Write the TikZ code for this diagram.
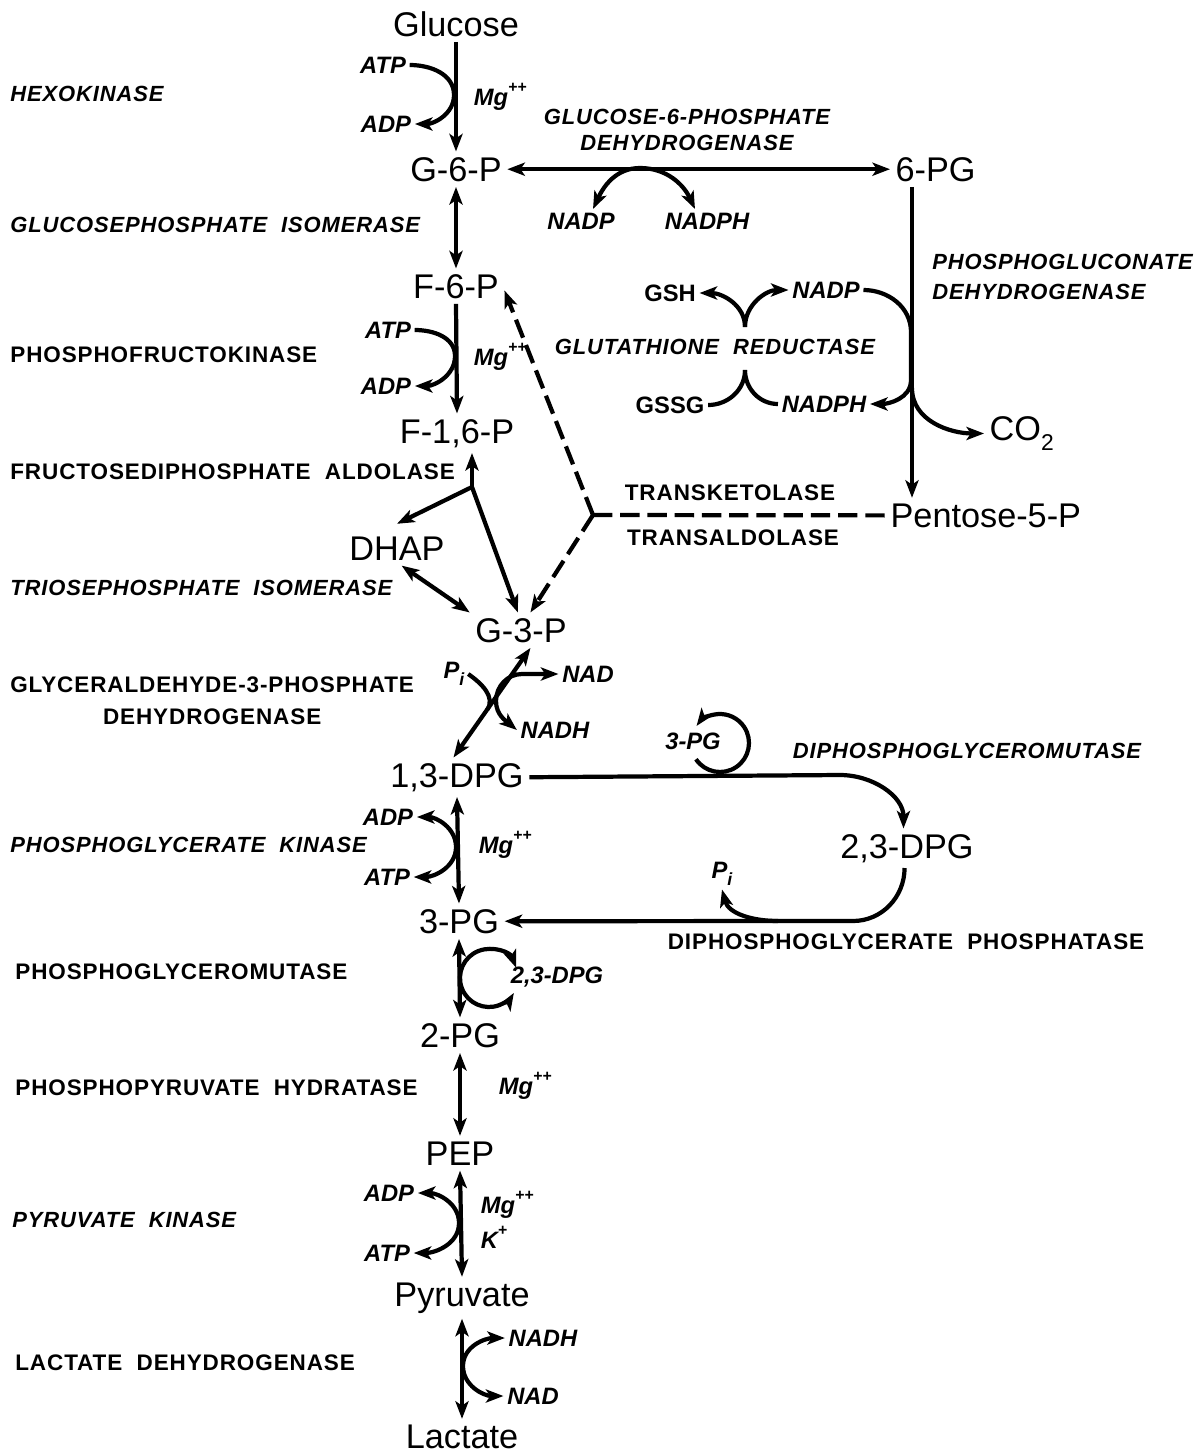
\documentclass[tikz,border=0pt]{standalone}
\usepackage{fontspec}
\setmainfont{Liberation Sans}
\newfontfamily\enzfont[LetterSpace=4]{Liberation Sans}
\usepackage{tikz}
\usetikzlibrary{arrows.meta, positioning}
\newcommand\chg[1]{\raisebox{1.0ex}{\fontsize{9}{9}\selectfont #1}}
\newcommand\lowi{\raisebox{-0.55ex}{\fontsize{10}{10}\selectfont i}}

\begin{document}
\begin{tikzpicture}[
    x=0.02cm, y=0.02cm,
    >={Stealth[length=10pt,width=7.5pt,inset=2.5pt]},
    met/.style={font=\fontsize{19.5}{22}\selectfont, anchor=base, inner sep=3pt},
    enz/.style={font=\enzfont\fontsize{12.8}{15}\selectfont\bfseries, anchor=west, inner sep=0pt},
    enzit/.style={enz, font=\enzfont\fontsize{12.5}{15}\selectfont\bfseries\itshape},
    cof/.style={font=\fontsize{13.5}{15}\selectfont\bfseries\itshape, inner sep=2pt},
    cofup/.style={cof, font=\fontsize{13.5}{15}\selectfont\bfseries},
    rx/.style={line width=2.4pt},
    fwd/.style={rx, ->},
    dbl/.style={rx, <->},
    tkdash/.style={rx, dash pattern=on 11pt off 4.5pt},
]
\useasboundingbox (0,0) rectangle (1196,-1455);

% Metabolites
\node[met] (glc) at (456,-36) {Glucose};
\node[met] (g6p) at (456,-181) {G-6-P};
\node[met, anchor=base west] (pg6) at (890,-181) {6-PG};
\node[met] (f6p) at (456,-298) {F-6-P};
\node[met] (f16p) at (457,-443) {F-1,6-P};
\node[met] (dhap) at (397,-560) {DHAP};
\node[met] (g3p) at (521,-642) {G-3-P};
\node[met] (dpg13) at (457,-787) {1,3-DPG};
\node[met] (dpg23) at (907,-858) {2,3-DPG};
\node[met] (pg3) at (459,-933) {3-PG};
\node[met] (pg2) at (460,-1047) {2-PG};
\node[met] (pep) at (460,-1165) {PEP};
\node[met] (pyr) at (462,-1306) {Pyruvate};
\node[met] (lac) at (462,-1448) {Lactate};
\node[met, anchor=base west] (pent) at (885,-527) {Pentose-5-P};
\node[met, anchor=base west] (co2) at (984,-440) {CO\raisebox{-0.6ex}{\fontsize{13}{13}\selectfont 2}};

% Left column: enzymes of glycolysis
\node[enzit] (hk) at (10,-94) {HEXOKINASE};
\node[enzit] (gpi) at (10,-225) {GLUCOSEPHOSPHATE\ \ ISOMERASE};
\node[enz] (pfk) at (10,-355) {PHOSPHOFRUCTOKINASE};
\node[enz] (fba) at (10,-472) {FRUCTOSEDIPHOSPHATE\ \ ALDOLASE};
\node[enzit] (tpi) at (10,-588) {TRIOSEPHOSPHATE\ \ ISOMERASE};
\node[enz] (gapdA) at (10,-685) {GLYCERALDEHYDE-3-PHOSPHATE};
\node[enz, below=8.5pt of gapdA] (gapdB) {DEHYDROGENASE};
\node[enzit] (pgk) at (10,-845) {PHOSPHOGLYCERATE\ \ KINASE};
\node[enz] (pgm) at (15,-972) {PHOSPHOGLYCEROMUTASE};
\node[enz] (eno) at (15,-1088) {PHOSPHOPYRUVATE\ \ HYDRATASE};
\node[enzit] (pk) at (12,-1220) {PYRUVATE\ \ KINASE};
\node[enz] (ldh) at (15,-1363) {LACTATE\ \ DEHYDROGENASE};

% Right side: shunt enzymes
\node[enzit, anchor=center] (g6pdA) at (687,-117) {GLUCOSE-6-PHOSPHATE};
\node[enzit, below=5.5pt of g6pdA] (g6pdB) {DEHYDROGENASE};
\node[enzit] (pgdA) at (932,-262) {PHOSPHOGLUCONATE};
\node[enzit] (pgdB) at (932,-292) {DEHYDROGENASE};
\node[enzit, anchor=center] (grd) at (715,-347) {GLUTATHIONE\ \ REDUCTASE};
\node[enz, anchor=center] (tkt) at (730,-493) {TRANSKETOLASE};
\node[enz, anchor=center] (tal) at (733,-538) {TRANSALDOLASE};
\node[enzit, anchor=center] (dpgm) at (967,-751) {DIPHOSPHOGLYCEROMUTASE};
\node[enz, anchor=center] (dpgp) at (906,-942) {DIPHOSPHOGLYCERATE\ \ PHOSPHATASE};

% Cofactors
\node[cof] (atp1) at (383,-65) {ATP};
\node[cof] (adp1) at (386,-124) {ADP};
\node[cof, anchor=base west] (mg1) at (470,-105) {Mg\chg{++}};
\node[cof] (nadp1) at (581,-221) {NADP};
\node[cof] (nadph1) at (707,-221) {NADPH};
\node[cofup] (gsh) at (670,-293) {GSH};
\node[cofup] (gssg) at (670,-405) {GSSG};
\node[cof] (nadp2) at (826,-290) {NADP};
\node[cof] (nadph2) at (824,-404) {NADPH};
\node[cof] (atp2) at (388,-330) {ATP};
\node[cof] (adp2) at (386,-386) {ADP};
\node[cof, anchor=base west] (mg2) at (470,-365) {Mg\chg{++}};
\node[cof] (pi1) at (454,-674) {P\lowi};
\node[cof] (nad1) at (588,-674) {NAD};
\node[cof] (nadh1) at (555,-730) {NADH};
\node[cof] (pgc) at (693,-741) {3-PG};
\node[cof] (pi2) at (722,-874) {P\lowi};
\node[cof] (adp3) at (388,-817) {ADP};
\node[cof] (atp3) at (387,-877) {ATP};
\node[cof, anchor=base west] (mg3) at (475,-853) {Mg\chg{++}};
\node[cof] (dpgc) at (557,-977) {2,3-DPG};
\node[cof, anchor=base west] (mg4) at (495,-1094) {Mg\chg{++}};
\node[cof] (adp5) at (389,-1193) {ADP};
\node[cof] (atp5) at (387,-1253) {ATP};
\node[cof, anchor=base west] (mg5) at (477,-1213) {Mg\chg{++}};
\node[cof, anchor=base west] (kp) at (477,-1248) {K\chg{+}};
\node[cof] (nadh5) at (543,-1338) {NADH};
\node[cof] (nad5) at (533,-1396) {NAD};

% Junction points
\coordinate (aldj) at (472,-487);
\coordinate (tkj) at (593,-515);
\coordinate (pgdax) at (912,0);
\coordinate (grdU) at (745,-327);
\coordinate (grdL) at (745,-370);
\coordinate (co2br) at (912,-388);
\coordinate (cyc1) at (720,-743);
\coordinate (cyc2) at (489,-978);
\coordinate (turn2) at (853,-921);
\coordinate (pibr) at (778,-921);

% Glycolytic trunk
\draw[fwd] (glc.south) -- (g6p.north);
\draw[dbl] (g6p.south) -- (f6p.north);
\draw[fwd] (f6p.south) -- (f16p.north);
\draw[fwd] (aldj) -- (aldj |- f16p.south);
\draw[fwd] (aldj) -- ([yshift=4pt]dhap.north);
\draw[fwd] (aldj) -- (g3p.100);
\draw[dbl] (dhap.-75) -- (g3p.north west);
\draw[dbl] (g3p.-62) -- (dpg13.100);
\draw[dbl] (dpg13.south) -- (pg3.north);
\draw[dbl] (pg3.south) -- (pg2.north);
\draw[dbl] (pg2.south) -- (pep.north);
\draw[dbl] (pep.south) -- (pyr.north);
\draw[dbl] (pyr.south) -- (lac.north);

% Cofactor arcs on the trunk
\draw[fwd] (atp1.east) to[out=0,in=90] (454,-95) to[out=-90,in=0] (adp1.east);
\draw[fwd] (atp2.east) to[out=0,in=90] (455,-356) to[out=-90,in=0] (adp2.east);
\draw[rx] (pi1.east) to[out=-35,in=55] (487,-710);
\draw[dbl] (nad1.west) -- (522,-674) to[out=180,in=90] (496,-701) to[out=-90,in=140] (nadh1.west);
\draw[dbl] (adp3.east) to[out=0,in=90] (456,-847) to[out=-90,in=0] (atp3.east);
\draw[dbl] (cyc2) ++(21:0.58cm) arc[start angle=21, end angle=329, radius=0.58cm];
\draw[dbl] (adp5.east) to[out=0,in=90] (459,-1223) to[out=-90,in=0] (atp5.east);
\draw[dbl] (nadh5.west) to[out=180,in=90] (463,-1366) to[out=-90,in=180] (nad5.west);

% Pentose phosphate shunt
\draw[dbl] (g6p.east) -- (pg6.west);
\draw[dbl] (nadp1.45) to[out=65,in=180] (640,-168) to[out=0,in=115] (nadph1.135);
\draw[fwd] (pg6.south -| pgdax) -- (pent.north -| pgdax);
\draw[fwd] (nadp2.east) to[out=0,in=90] (911,-332) -- (911,-380) to[out=-90,in=0] (nadph2.east);
\draw[fwd] (co2br) to[out=-90,in=180] (co2.west);
\draw[fwd] (grdU) to[out=90,in=0] (gsh.east);
\draw[fwd] (grdU) to[out=90,in=180] (nadp2.west);
\draw[rx] (grdL) to[out=-90,in=0] (gssg.east);
\draw[rx] (grdL) to[out=-90,in=180] (nadph2.west);
\draw[tkdash, ->] (tkj) -- (f6p.-5);
\draw[tkdash, ->] (tkj) -- (g3p.62);
\draw[tkdash] (tkj) -- (pent.west);

% 2,3-DPG shunt
\draw[fwd] (dpg13.east) -- (840,-775) to[out=0,in=90] (dpg23.100);
\draw[fwd] (cyc1) ++(214:0.58cm) arc[start angle=214, end angle=504, radius=0.58cm];
\draw[fwd] (dpg23.-97) to[out=-90,in=0] (turn2) -- (pg3.east);
\draw[fwd] (pibr) to[out=180,in=-75] (pi2.south);

\end{tikzpicture}
\end{document}
